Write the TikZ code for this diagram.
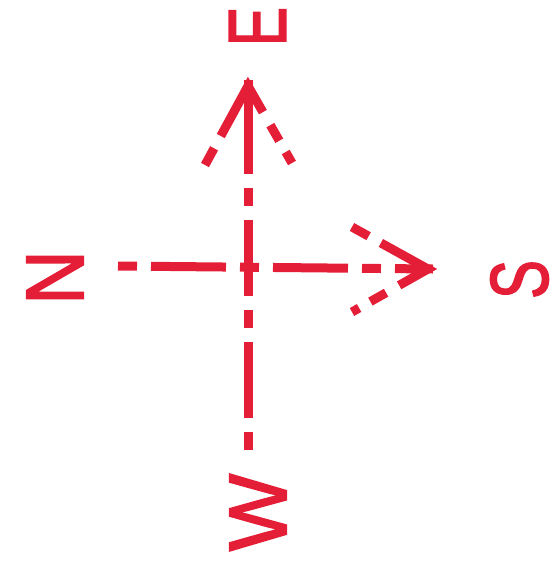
\documentclass[tikz,border=0pt]{standalone}
\usepackage{fontspec}
\setmainfont{Liberation Sans}
\newfontfamily\letterfont[FakeBold=2]{Liberation Sans}
\definecolor{compred}{RGB}{228,30,55}
\begin{document}
\begin{tikzpicture}[x=1pt,y=-1pt,
  mainline/.style={draw=compred,line width=9pt,line cap=butt},
  axisdash/.style={mainline,dash pattern=on 19pt off 14pt on 75pt off 14pt},
  barbs/.style={mainline,line join=miter,dash pattern=on 19pt off 14pt on 87pt off 15pt on 18pt off 13pt on 13pt},
  letter/.style={text=compred,font=\letterfont\fontsize{82}{90}\selectfont,inner sep=0pt,rotate=90}]
\useasboundingbox (0,0) rectangle (555,566);
% axis end points
\coordinate (wend) at (248,450);
\coordinate (vbreak) at (248,174);
\coordinate (etip) at (248,80);
\coordinate (nend) at (118,266);
\coordinate (stip) at (433,269);
% arrowhead points
\coordinate (ev) at (248,86);
\coordinate (el) at (205,165);
\coordinate (er) at (292,163);
\coordinate (sv) at (428,269);
\coordinate (su) at (352,227);
\coordinate (sd) at (352,312);
% axes
\draw[mainline,dash pattern=on 18pt off 14pt on 76pt off 14pt] (wend) -- (vbreak);
\draw[mainline] (vbreak) -- (etip);
\draw[axisdash] (nend) -- (stip);
% arrowheads
\draw[barbs] (el) -- (ev) -- (er);
\draw[barbs] (su) -- (sv) -- (sd);
% letters
\node[letter] (E) at (257.5,26.5) {\scalebox{0.72}[1]{E}};
\node[letter] (N) at (55,277.5) {\scalebox{0.92}[1]{N}};
\node[letter] (S) at (519.5,279.5) {\scalebox{0.71}[1]{S}};
\node[letter] (W) at (258,512.5) {\scalebox{1.0}[1]{W}};
\end{tikzpicture}
\end{document}
